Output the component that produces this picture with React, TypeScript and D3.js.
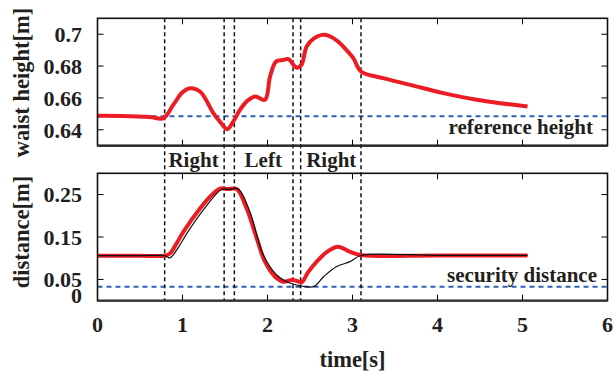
import React from "react";
import * as d3 from "d3";

const W = 616, H = 375;
const xDomain: [number, number] = [0, 6];
const topDomain: [number, number] = [0.63, 0.71];
const botDomain: [number, number] = [0, 0.3];

const xTicks = [0, 1, 2, 3, 4, 5, 6];
const topTicks = [0.64, 0.66, 0.68, 0.7];
const topTickLabels = ["0.64", "0.66", "0.68", "0.7"];
const botTicks = [0, 0.05, 0.15, 0.25];
const botTickLabels = ["0", "0.05", "0.15", "0.25"];

const phaseLines = [0.79, 1.49, 1.61, 2.3, 2.39, 3.1];
const phaseLabels = ["Right", "Left", "Right"];
const phaseLabelT = [1.13, 1.95, 2.75];

const referenceHeight = 0.6485;
const securityDistance = 0.033;

// waist height (red)
const waistT = [0, 0.3, 0.618, 0.775, 0.892, 1.0, 1.088, 1.206, 1.363, 1.45, 1.527, 1.598, 1.676, 1.76, 1.853, 1.97, 2.03, 2.1, 2.18, 2.245, 2.343, 2.40, 2.46, 2.55, 2.64, 2.73, 2.83, 2.93, 3.01, 3.10, 3.36, 3.68, 4.07, 4.46, 4.74, 5.06];
const waistV = [0.6488, 0.6487, 0.648, 0.6473, 0.6557, 0.6635, 0.6661, 0.664, 0.6505, 0.6445, 0.6404, 0.6452, 0.6525, 0.658, 0.6609, 0.6588, 0.6734, 0.6828, 0.6838, 0.6843, 0.679, 0.6808, 0.6922, 0.6975, 0.6996, 0.6988, 0.6954, 0.69, 0.685, 0.6766, 0.6724, 0.6682, 0.663, 0.6588, 0.6567, 0.6546];

// distance: red (thick) and black (thin)
const distRedT = [0, 0.5, 0.79, 0.853, 0.93, 1.01, 1.206, 1.35, 1.441, 1.53, 1.637, 1.755, 1.873, 1.97, 2.09, 2.186, 2.284, 2.34, 2.40, 2.48, 2.58, 2.70, 2.83, 2.97, 3.10, 4.0, 5.06];
const distRedV = [0.106, 0.106, 0.106, 0.111, 0.135, 0.162, 0.217, 0.25, 0.264, 0.263, 0.263, 0.217, 0.147, 0.092, 0.0565, 0.0447, 0.0487, 0.047, 0.043, 0.068, 0.092, 0.115, 0.127, 0.115, 0.1075, 0.1065, 0.1065];
const distBlackT = [0, 0.5, 0.79, 0.853, 0.95, 1.05, 1.25, 1.46, 1.55, 1.656, 1.794, 1.951, 2.108, 2.226, 2.343, 2.40, 2.54, 2.66, 2.81, 2.97, 3.10, 4.0, 5.06];
const distBlackV = [0.106, 0.106, 0.106, 0.101, 0.125, 0.158, 0.215, 0.262, 0.262, 0.263, 0.209, 0.1075, 0.0605, 0.0447, 0.037, 0.0346, 0.033, 0.0565, 0.08, 0.092, 0.1065, 0.1065, 0.1065];

const FONT = "'Liberation Serif', 'Times New Roman', serif";
const TXT = "#231f20";

export default function App() {
  const left = 97.5, right = 607.5;
  const topY0 = 18.3, topY1 = 145.7;
  const botY0 = 173.3, botY1 = 300.7;

  const x = d3.scaleLinear().domain(xDomain).range([left, right]);
  const yT = d3.scaleLinear().domain(topDomain).range([topY1, topY0]);
  const yB = d3.scaleLinear().domain(botDomain).range([botY1, botY0]);

  const lineTop = d3.line<number>().x((_, i) => x(waistT[i])).y((v) => yT(v)).curve(d3.curveCatmullRom.alpha(0.5));
  const lineRed = d3.line<number>().x((_, i) => x(distRedT[i])).y((v) => yB(v)).curve(d3.curveCatmullRom.alpha(0.5));
  const lineBlack = d3.line<number>().x((_, i) => x(distBlackT[i])).y((v) => yB(v)).curve(d3.curveCatmullRom.alpha(0.5));

  const tickLen = 6;
  const innerX = xTicks.slice(1, -1);

  const frame = (y0: number, y1: number, yScale: d3.ScaleLinear<number, number>, ticks: number[], bottomStroke: string) => (
    <g>
      {innerX.map((t) => (
        <g key={"x" + t}>
          <line x1={x(t)} x2={x(t)} y1={y1} y2={y1 - tickLen} stroke="#000" strokeWidth={1} />
          <line x1={x(t)} x2={x(t)} y1={y0} y2={y0 + tickLen} stroke="#000" strokeWidth={1} />
        </g>
      ))}
      {ticks.map((t) => (
        <g key={"y" + t}>
          <line x1={left} x2={left + tickLen} y1={yScale(t)} y2={yScale(t)} stroke="#000" strokeWidth={1} />
          <line x1={right} x2={right - tickLen} y1={yScale(t)} y2={yScale(t)} stroke="#000" strokeWidth={1} />
        </g>
      ))}
      <rect x={left} y={y0} width={right - left} height={y1 - y0} fill="none" stroke="#111" strokeWidth={1.6} />
      <line x1={left} x2={right} y1={y1} y2={y1} stroke={bottomStroke} strokeWidth={2.2} />
    </g>
  );

  return (
    <svg width={W} height={H} style={{ position: "absolute", left: 0, top: 0, background: "#fff" }} fontFamily={FONT}>
      {/* reference lines */}
      <line x1={left} x2={right} y1={yT(referenceHeight)} y2={yT(referenceHeight)} stroke="#2d5fb8" strokeWidth={2} strokeDasharray="5,4" />
      <line x1={left} x2={right} y1={yB(securityDistance)} y2={yB(securityDistance)} stroke="#2d5fb8" strokeWidth={2} strokeDasharray="5,4" />

      {/* phase lines */}
      {phaseLines.map((t) => (
        <line key={t} x1={x(t)} x2={x(t)} y1={topY0} y2={botY1} stroke="#111" strokeWidth={1.5} strokeDasharray="4,3" />
      ))}

      {/* curves */}
      <path d={lineTop(waistV) || ""} fill="none" stroke="#ec1c24" strokeWidth={4} strokeLinejoin="round" />
      <path d={lineRed(distRedV) || ""} fill="none" stroke="#ec1c24" strokeWidth={4} strokeLinejoin="round" />
      <path d={lineBlack(distBlackV) || ""} fill="none" stroke="#111" strokeWidth={1.2} />

      {frame(topY0, topY1, yT, topTicks, "#222")}
      {frame(botY0, botY1, yB, botTicks.slice(1), "#333")}

      {/* tick labels */}
      <g fontWeight="bold" fontSize={22} fill={TXT}>
        {topTicks.map((t, i) => (
          <text key={t} x={82} y={yT(t) + 7.8} textAnchor="end">{topTickLabels[i]}</text>
        ))}
        {botTicks.map((t, i) => (
          <text key={t} x={82} y={yB(t) + (t === 0 ? 2.5 : 7.5)} textAnchor="end">{botTickLabels[i]}</text>
        ))}
        {xTicks.map((t) => (
          <text key={t} x={x(t)} y={332} textAnchor="middle">{t}</text>
        ))}
      </g>

      {/* axis titles */}
      <g fontWeight="bold" fontSize={22.5} fill={TXT}>
        <text transform={`translate(29,${(5 + 160) / 2}) rotate(-90)`} textAnchor="middle">waist height[m]</text>
        <text transform={`translate(29,${(178 + 286) / 2}) rotate(-90)`} textAnchor="middle">distance[m]</text>
        <text x={x(3)} y={367} textAnchor="middle">time[s]</text>
      </g>

      {/* annotations */}
      <g fontWeight="bold" fontSize={21} fill={TXT}>
        {phaseLabels.map((s, i) => (
          <text key={i} x={x(phaseLabelT[i])} y={166.5} textAnchor="middle">{s}</text>
        ))}
        <text x={593} y={133.5} textAnchor="end">reference height</text>
        <text x={597} y={282} textAnchor="end">security distance</text>
      </g>
    </svg>
  );
}
